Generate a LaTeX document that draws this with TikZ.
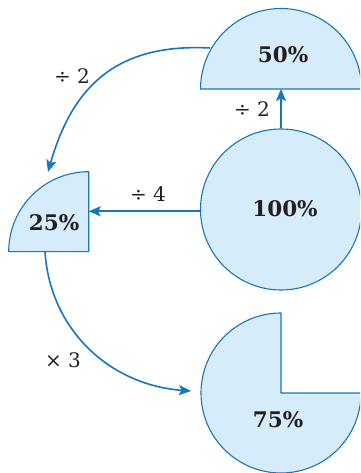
\documentclass[tikz,border=0pt]{standalone}
\usepackage{fontspec}
\setmainfont{DejaVu Serif}
\usetikzlibrary{arrows.meta}
\definecolor{edge}{RGB}{24,118,190}
\definecolor{pale}{RGB}{214,236,250}
\definecolor{ink}{RGB}{35,31,32}
\begin{document}
\begin{tikzpicture}[x=1pt,y=1pt,
  part/.style={draw=edge, fill=pale, line width=1.1pt, line join=round},
  pct/.style={text=ink, font=\fontsize{21.5}{25}\selectfont\bfseries},
  op/.style={text=ink, font=\fontsize{20}{24}\selectfont},
  link/.style={draw=edge, line width=1.6pt, -{Stealth[length=12pt,width=10pt,inset=2.5pt]}}]
\useasboundingbox (0,0) rectangle (360,473);
\begin{scope}
\clip (0,0) rectangle (360,473);
% 100%
\node[part, circle, minimum size=161pt, inner sep=0pt] (whole) at (281,263.5) {};
\node[pct] (wholetxt) at (285,264) {100\%};
% 50%
\draw[part] (200.5,384) arc[start angle=180, end angle=0, radius=80.5] -- cycle;
\node[pct] (halftxt) at (283,418) {50\%};
\coordinate (halfbase) at (281,384);
\coordinate (halfleft) at (210,425);
% 25%
\draw[part] (88.7,221.3) -- (88.7,301.3) arc[start angle=90, end angle=180, radius=80] -- cycle;
\node[pct] (quartxt) at (54,250.5) {25\%};
\coordinate (quarright) at (88.7,261.7);
\coordinate (quartop) at (48,301);
\coordinate (quarbottom) at (45,221.3);
% 75%
\draw[part] (281,80) -- (281,160) arc[start angle=90, end angle=360, radius=80] -- cycle;
\node[pct] (threetxt) at (278,53.5) {75\%};
\coordinate (threeleft) at (191,82);
\end{scope}
% connectors
\draw[link] (whole.north) -- (halfbase);
\draw[link] (whole.west |- quarright) -- (quarright);
\draw[link] (halfleft) .. controls (115,430) and (72,385) .. (quartop);
\draw[link] (quarbottom) .. controls (50,143) and (110,88) .. (threeleft);
% labels
\node[op] (lbla) at (72,397) {÷ 2};
\node[op] (lblb) at (252,364) {÷ 2};
\node[op] (lblc) at (148,279) {÷ 4};
\node[op] (lbld) at (63,113) {× 3};
\end{tikzpicture}
\end{document}
